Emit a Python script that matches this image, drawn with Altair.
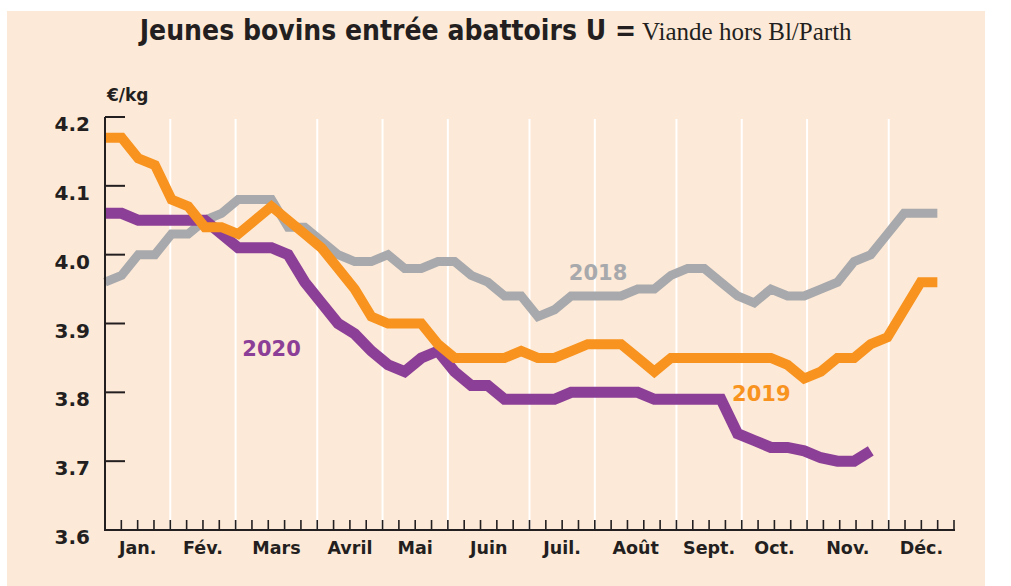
import altair as alt
import pandas as pd

# ---- data ----
years = ["2018", "2019", "2020"]
colors = ["#A7A9AC", "#F7931E", "#8C3F97"]

v2018 = [3.96, 3.97, 4.00, 4.00, 4.03, 4.03, 4.05, 4.06, 4.08, 4.08,
         4.08, 4.04, 4.04, 4.02, 4.00, 3.99, 3.99, 4.00, 3.98, 3.98,
         3.99, 3.99, 3.97, 3.96, 3.94, 3.94, 3.91, 3.92, 3.94, 3.94,
         3.94, 3.94, 3.95, 3.95, 3.97, 3.98, 3.98, 3.96, 3.94, 3.93,
         3.95, 3.94, 3.94, 3.95, 3.96, 3.99, 4.00, 4.03, 4.06, 4.06,
         4.06]
v2019 = [4.17, 4.17, 4.14, 4.13, 4.08, 4.07, 4.04, 4.04, 4.03, 4.05,
         4.07, 4.05, 4.03, 4.01, 3.98, 3.95, 3.91, 3.90, 3.90, 3.90,
         3.87, 3.85, 3.85, 3.85, 3.85, 3.86, 3.85, 3.85, 3.86, 3.87,
         3.87, 3.87, 3.85, 3.83, 3.85, 3.85, 3.85, 3.85, 3.85, 3.85,
         3.85, 3.84, 3.82, 3.83, 3.85, 3.85, 3.87, 3.88, 3.92, 3.96,
         3.96]
v2020 = [4.06, 4.06, 4.05, 4.05, 4.05, 4.05, 4.05, 4.03, 4.01, 4.01,
         4.01, 4.00, 3.96, 3.93, 3.90, 3.885, 3.86, 3.84, 3.83, 3.85,
         3.86, 3.83, 3.81, 3.81, 3.79, 3.79, 3.79, 3.79, 3.80, 3.80,
         3.80, 3.80, 3.80, 3.79, 3.79, 3.79, 3.79, 3.79, 3.74, 3.73,
         3.72, 3.72, 3.715, 3.705, 3.70, 3.70, 3.715]

months = ["Jan.", "Fév.", "Mars", "Avril", "Mai", "Juin",
          "Juil.", "Août", "Sept.", "Oct.", "Nov.", "Déc."]
month_centers = [2, 6, 10.5, 15, 19, 23.5, 28, 32.5, 37, 41, 45.5, 50]
month_bounds = [4, 8, 13, 17, 21, 26, 30, 35, 39, 43, 48]
week_ticks = list(range(1, 53))
y_ticks = [3.6, 3.7, 3.8, 3.9, 4.0, 4.1, 4.2]
y_tick_labels = ["3.6", "3.7", "3.8", "3.9", "4.0", "4.1", "4.2"]

year_label_x = [30.2, 40.2, 10.2]
year_label_y = [3.972, 3.796, 3.861]

title_main = "Jeunes bovins entrée abattoirs U ="
title_sub = "Viande hors Bl/Parth"
unit_label = "€/kg"

# ---- geometry ----
W, H = 849, 413
N_WEEKS = 52
DARK = "#231F20"
BG = "#FDE9D7"

xscale = alt.Scale(domain=[0, N_WEEKS], nice=False, zero=False)
yscale = alt.Scale(domain=[3.6, 4.2], nice=False, zero=False)


def series_df(vals):
    # 51 weekly points spread over the 52-week axis
    step = N_WEEKS / 51
    return pd.DataFrame({"x": [i * step for i in range(len(vals))], "v": vals})


one = pd.DataFrame({"a": [0]})

bg = alt.Chart(one).mark_rect(color=BG).encode(
    x=alt.value(-98), x2=alt.value(880), y=alt.value(-106), y2=alt.value(H + 60)
)

grid = alt.Chart(pd.DataFrame({"b": month_bounds})).mark_rule(
    color="white", strokeWidth=2
).encode(
    x=alt.X("b:Q", scale=xscale, axis=None),
    y=alt.value(2), y2=alt.value(H),
)


def line_layer(vals, color, width):
    return alt.Chart(series_df(vals)).mark_line(
        color=color, strokeWidth=width, strokeJoin="miter", strokeCap="butt",
        strokeMiterLimit=4
    ).encode(
        x=alt.X("x:Q", scale=xscale, axis=None),
        y=alt.Y("v:Q", scale=yscale, axis=None),
    )


l18 = line_layer(v2018, colors[0], 9)
l20 = line_layer(v2020, colors[2], 11)
l19 = line_layer(v2019, colors[1], 10)

# axis lines
yaxis_line = alt.Chart(one).mark_rule(color=DARK, strokeWidth=2).encode(
    x=alt.value(0), y=alt.value(0), y2=alt.value(H + 1)
)
xaxis_line = alt.Chart(one).mark_rule(color=DARK, strokeWidth=2).encode(
    x=alt.value(-1), x2=alt.value(W + 1), y=alt.value(H)
)

yt = alt.Chart(pd.DataFrame({"v": y_ticks})).mark_rule(
    color=DARK, strokeWidth=2
).encode(y=alt.Y("v:Q", scale=yscale, axis=None), x=alt.value(0), x2=alt.value(20))

ytl = alt.Chart(pd.DataFrame({"v": y_ticks, "t": y_tick_labels})).mark_text(
    font="DejaVu Sans", fontWeight="bold", fontSize=20, color=DARK,
    align="right", baseline="top", dy=-2
).encode(y=alt.Y("v:Q", scale=yscale, axis=None), x=alt.value(-15), text="t:N")

xt = alt.Chart(pd.DataFrame({"w": week_ticks})).mark_rule(
    color=DARK, strokeWidth=1.6
).encode(x=alt.X("w:Q", scale=xscale, axis=None), y=alt.value(H), y2=alt.value(H - 10))

mlab = alt.Chart(pd.DataFrame({"m": months, "c": month_centers})).mark_text(
    font="DejaVu Sans", fontWeight="bold", fontSize=17.5, color=DARK,
    baseline="middle", align="center"
).encode(x=alt.X("c:Q", scale=xscale, axis=None), y=alt.value(H + 19), text="m:N")

ylab = alt.Chart(pd.DataFrame({
    "t": years, "x": year_label_x, "v": year_label_y, "c": colors
})).mark_text(
    font="DejaVu Sans", fontWeight="bold", fontSize=21, baseline="middle", align="center"
).encode(
    x=alt.X("x:Q", scale=xscale, axis=None),
    y=alt.Y("v:Q", scale=yscale, axis=None),
    text="t:N",
    color=alt.Color("c:N", scale=None, legend=None),
)

unit = alt.Chart(pd.DataFrame({"t": [unit_label]})).mark_text(
    font="DejaVu Sans", fontWeight="bold", fontSize=17, color=DARK,
    align="left", baseline="middle"
).encode(x=alt.value(2), y=alt.value(-21), text="t:N")

t1 = alt.Chart(pd.DataFrame({"t": [title_main]})).mark_text(
    font="DejaVu Sans Condensed", fontWeight="bold", fontSize=28, color=DARK,
    align="right", baseline="alphabetic"
).encode(x=alt.value(531), y=alt.value(-77), text="t:N")

t2 = alt.Chart(pd.DataFrame({"t": [title_sub]})).mark_text(
    font="Liberation Serif", fontSize=25, color=DARK,
    align="left", baseline="alphabetic"
).encode(x=alt.value(537), y=alt.value(-77), text="t:N")

chart = alt.layer(
    bg, grid, l18, l20, l19, yaxis_line, xaxis_line, yt, ytl, xt, mlab, ylab,
    unit, t1, t2
).properties(
    width=W, height=H,
    autosize=alt.AutoSizeParams(type="none"),
    padding={"left": 105, "top": 117, "right": 57, "bottom": 56},
    background="white",
).configure_view(stroke=None)

chart.save("out.html", embed_options={"renderer": "svg", "actions": False})
